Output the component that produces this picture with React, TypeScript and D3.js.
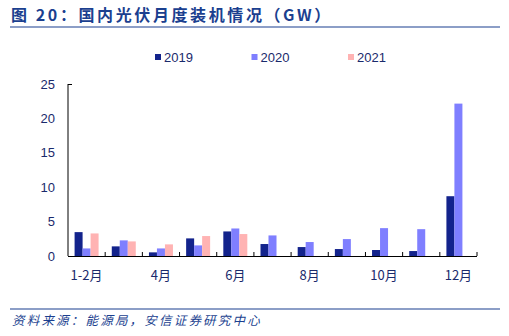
import React from "react";
import * as d3 from "d3";

const categories = ["1-2月", "3月", "4月", "5月", "6月", "7月", "8月", "9月", "10月", "11月", "12月"];
const tickLabels = ["1-2月", "4月", "6月", "8月", "10月", "12月"];
const seriesNames = ["2019", "2020", "2021"];
const values2019 = [3.47, 1.4, 0.53, 2.56, 3.57, 1.74, 1.3, 1.01, 0.87, 0.72, 8.69];
const values2020 = [1.1, 2.27, 1.1, 1.54, 4.0, 2.99, 2.03, 2.46, 4.05, 3.9, 22.15];
const values2021: (number | null)[] = [3.28, 2.12, 1.69, 2.9, 3.19, null, null, null, null, null, null];
const yTicks = [0, 5, 10, 15, 20, 25];

const colors = ["#13238c", "#7f7fff", "#ffb3b3"];
const textColor = "#1a2a6c";
const font = "'Liberation Sans', Arial, sans-serif";

export default function App() {
  const W = 509, H = 336;
  const left = 68, right = 477, top = 84, bottom = 256;
  const x = d3.scaleBand<string>().domain(categories).range([left, right]).paddingInner(0).paddingOuter(0);
  const y = d3.scaleLinear().domain([0, 25]).range([bottom, top]);
  const inner = d3.scaleBand<string>().domain(seriesNames).range([0, 24]);
  const bw = x.bandwidth();
  const off = (bw - 24) / 2;
  const allSeries = [values2019, values2020, values2021];

  return (
    <svg width={W} height={H} style={{ position: "absolute", left: 0, top: 0 }} fontFamily={font}>
      <rect width={W} height={H} fill="#fff" />
      <text x={11} y={21} fontSize={16} fontWeight="bold" fill="#1b3f8f" letterSpacing={2.6} fontFamily="'Noto Sans CJK SC', sans-serif">
        图 20：国内光伏月度装机情况（GW）
      </text>
      <line x1={10} x2={500} y1={27} y2={27} stroke="#1b3f8f" strokeWidth={1.2} />

      {seriesNames.map((s, i) => (
        <g key={s} transform={`translate(${155 + i * 96.5},57)`}>
          <rect x={0} y={-3} width={6} height={6} fill={colors[i]} />
          <text x={9} y={5} fontSize={13} fill={textColor}>{s}</text>
        </g>
      ))}

      {yTicks.map((t) => (
        <text key={t} x={55} y={y(t) + 4.5} fontSize={13} textAnchor="end" fill={textColor}>{t}</text>
      ))}

      {allSeries.map((vals, si) =>
        vals.map((v, ci) =>
          v == null ? null : (
            <rect
              key={`${si}-${ci}`}
              x={(x(categories[ci]) as number) + off + (inner(seriesNames[si]) as number)}
              y={y(v)}
              width={inner.bandwidth()}
              height={bottom - y(v)}
              fill={colors[si]}
            />
          )
        )
      )}

      <line x1={left} x2={left} y1={top} y2={bottom} stroke="#000" strokeWidth={1} />
      <line x1={left} x2={left + 4} y1={top + 0.5} y2={top + 0.5} stroke="#000" strokeWidth={1} />
      <line x1={left} x2={right} y1={bottom + 0.5} y2={bottom + 0.5} stroke="#000" strokeWidth={1.2} />
      {categories.map((c) => (
        <line key={c} x1={(x(c) as number) + bw} x2={(x(c) as number) + bw} y1={bottom} y2={bottom - 4} stroke="#000" strokeWidth={1} />
      ))}
      {categories.map((c) =>
        tickLabels.includes(c) ? (
          <text key={c} x={(x(c) as number) + bw / 2} y={280} fontSize={13} textAnchor="middle" fill={textColor}
            fontFamily="'Noto Sans CJK SC', sans-serif">{c}</text>
        ) : null
      )}

      <line x1={10} x2={500} y1={309} y2={309} stroke="#1b3f8f" strokeWidth={1.2} />
      <text x={12} y={325} fontSize={12.5} fontStyle="italic" fill="#1b3f8f" letterSpacing={2.2} fontFamily="'Noto Sans CJK SC', sans-serif">
        资料来源：能源局，安信证券研究中心
      </text>
    </svg>
  );
}
